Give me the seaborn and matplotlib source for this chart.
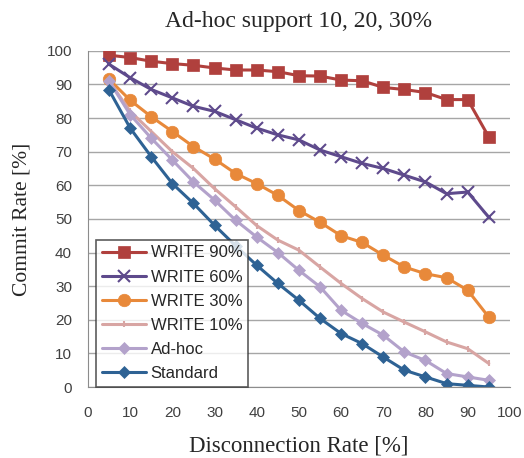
import numpy as np
import pandas as pd
import matplotlib
matplotlib.use("Agg")
import matplotlib.pyplot as plt
import seaborn as sns

disconnection = [5, 10, 15, 20, 25, 30, 35, 40, 45, 50, 55, 60, 65, 70, 75, 80, 85, 90, 95]

write90 = [98.7, 98.0, 96.9, 96.2, 95.7, 94.9, 94.3, 94.3, 93.8, 92.6, 92.5, 91.3, 91.1, 89.1, 88.5, 87.6, 85.5, 85.5, 74.4]
write60 = [96.0, 92.0, 88.5, 86.0, 83.5, 82.0, 79.5, 77.0, 75.0, 73.5, 70.5, 68.5, 66.5, 65.0, 63.0, 61.0, 57.5, 58.0, 50.5]
write30 = [91.5, 85.3, 80.4, 76.0, 71.5, 67.8, 63.5, 60.5, 57.0, 52.5, 49.0, 45.0, 43.0, 39.2, 35.7, 33.7, 32.5, 28.8, 20.8]
write10 = [91.0, 82.0, 76.0, 70.0, 65.0, 59.0, 53.6, 48.0, 43.7, 40.7, 35.7, 30.8, 26.3, 22.3, 19.3, 16.4, 13.4, 11.4, 7.0]
adhoc = [91.0, 81.0, 74.0, 67.5, 61.0, 55.6, 49.6, 44.6, 40.0, 34.7, 29.8, 22.8, 18.9, 15.4, 10.4, 7.9, 4.0, 3.0, 2.0]
standard = [88.3, 77.0, 68.5, 60.5, 54.6, 48.1, 42.0, 36.2, 30.8, 25.8, 20.4, 15.9, 12.9, 8.9, 5.0, 3.0, 1.0, 0.5, 0.0]

series = [
    ("WRITE 90%", write90, "#B0403D", "s", 8),
    ("WRITE 60%", write60, "#5E4A8C", "x", 8),
    ("WRITE 30%", write30, "#E8893A", "o", 9),
    ("WRITE 10%", write10, "#D8A5A3", "|", 4),
    ("Ad-hoc", adhoc, "#B3A2CB", "D", 6),
    ("Standard", standard, "#2E6294", "D", 6),
]

sns.set_style("white")
plt.rcParams["font.family"] = ["Liberation Sans", "DejaVu Sans"]

fig = plt.figure(figsize=(5.24, 4.58), dpi=100)
ax = fig.add_axes([0.168, 0.155, 0.805, 0.734])

for name, vals, color, marker, ms in series:
    df = pd.DataFrame({"x": disconnection, "y": vals})
    sns.lineplot(data=df, x="x", y="y", ax=ax, color=color, marker=marker,
                 markersize=ms, linewidth=2.2, label=name,
                 markeredgecolor=color, markeredgewidth=1.5 if marker in ("x", "|") else 0.5)

ax.set_xlim(0, 100)
ax.set_ylim(0, 100)
ax.set_xticks(np.arange(0, 101, 10))
ax.set_yticks(np.arange(0, 101, 10))
ax.yaxis.grid(True, color="#A6A6A6", linewidth=1)
ax.xaxis.grid(False)
for side in ["top", "right"]:
    ax.spines[side].set_visible(False)
for side in ["left", "bottom"]:
    ax.spines[side].set_color("#8C8C8C")
ax.tick_params(axis="both", direction="inout", length=7, color="#8C8C8C",
               labelsize=11, labelcolor="#404040", width=1)
ax.tick_params(axis="x", pad=10)
ax.tick_params(axis="y", pad=8)

ax.set_title("Ad-hoc support 10, 20, 30%", family="Liberation Serif", fontsize=17, pad=17)
ax.set_xlabel("Disconnection Rate [%]", family="Liberation Serif", fontsize=16.5, labelpad=11)
ax.set_ylabel("Commit Rate [%]", family="Liberation Serif", fontsize=15.5, labelpad=11)

leg = ax.legend(loc="lower left", bbox_to_anchor=(0.02, 0.0), fontsize=12,
                frameon=True, fancybox=False, borderpad=0.35, labelspacing=0.55,
                handlelength=2.6, handletextpad=0.3, borderaxespad=0.0)
leg.get_frame().set_edgecolor("#333333")
leg.get_frame().set_linewidth(1.2)

fig.savefig("out.png", dpi=100)
